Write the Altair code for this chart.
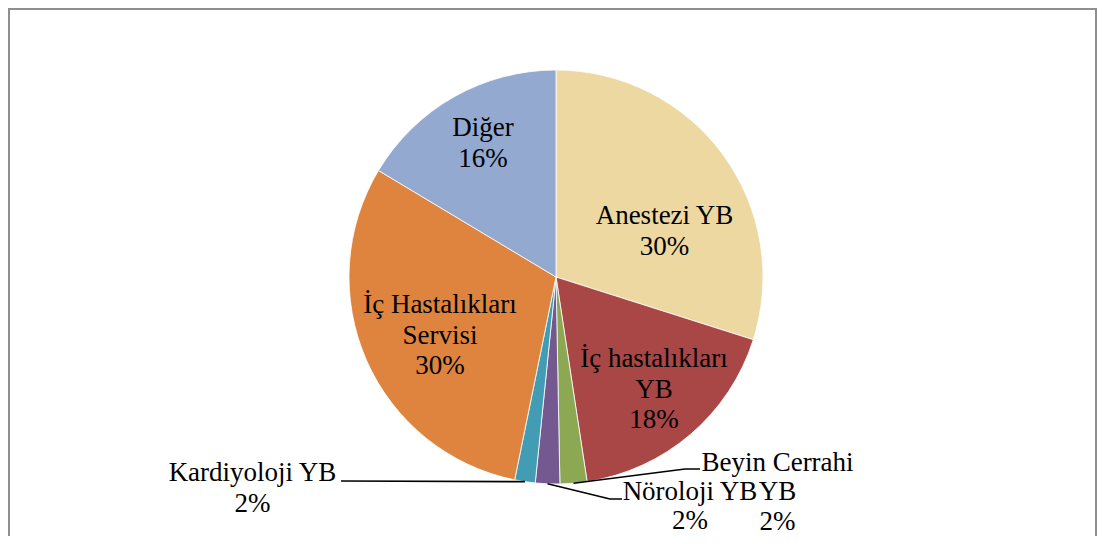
import math
import altair as alt
import pandas as pd

# ---- data ----
categories = ["Anestezi YB", "İç hastalıkları YB", "Beyin Cerrahi YB", "Nöroloji YB",
              "Kardiyoloji YB", "İç Hastalıkları Servisi", "Diğer"]
values = [29.9, 17.7, 2.1, 1.9, 1.6, 30.4, 16.4]
label_lines = [["Anestezi YB"], ["İç hastalıkları", "YB"], ["Beyin Cerrahi", "YB"],
               ["Nöroloji YB"], ["Kardiyoloji YB"], ["İç Hastalıkları", "Servisi"], ["Diğer"]]
colors = ["#EDD8A2", "#A94646", "#8DA853", "#73598F", "#429CB3", "#DE843F", "#93A9D0"]

# ---- layout (view pixel coordinates) ----
W, H = 1089, 528
CX, CY, R = 548, 269, 207
FONT = "Liberation Serif"
FS = 27
LH = 30.5
label_pos = {
    "Anestezi YB": (656.5, 216),
    "İç hastalıkları YB": (646, 359),
    "Beyin Cerrahi YB": (769.5, 463),
    "Nöroloji YB": (682, 492),
    "Kardiyoloji YB": (244.5, 473),
    "İç Hastalıkları Servisi": (432, 305),
    "Diğer": (475, 128),
}
label_lh = {"Beyin Cerrahi YB": 29.3, "Nöroloji YB": 29.3}
leader_pts = {
    "Beyin Cerrahi YB": [(677, 461), (692, 461)],
    "Nöroloji YB": [(602, 491), (614, 491)],
    "Kardiyoloji YB": [(333, 473)],
}

total = sum(values)
pcts = [f"{round(v / total * 100)}%" for v in values]

pie_df = pd.DataFrame({"cat": categories, "value": values, "idx": list(range(len(values)))})

txt_df = pd.DataFrame({
    "cat": categories,
    "text": ["\n".join(l + [p]) for l, p in zip(label_lines, pcts)],
    "x": [label_pos[c][0] for c in categories],
    "y": [label_pos[c][1] for c in categories],
    "tight": [c in label_lh for c in categories],
})

# leader lines start at the slice edge, at its middle angle
rows = []
cum = 0.0
for c, v in zip(categories, values):
    mid = (cum + v / 2) / total * 2 * math.pi
    cum += v
    if c in leader_pts:
        pts = [(CX + R * math.sin(mid), CY - R * math.cos(mid))] + leader_pts[c]
        for k, (px, py) in enumerate(pts):
            rows.append({"seg": c, "o": k, "x": px, "y": py})
lead_df = pd.DataFrame(rows)

xs = alt.Scale(domain=[0, W])
ys = alt.Scale(domain=[H, 0])

pie = alt.Chart(pie_df).mark_arc(outerRadius=R, stroke="#ffffff", strokeWidth=0.8).encode(
    theta=alt.Theta("value:Q", stack=True),
    color=alt.Color("cat:N", scale=alt.Scale(domain=categories, range=colors), legend=None),
    order=alt.Order("idx:Q"),
    x=alt.value(CX),
    y=alt.value(CY),
)

leaders = alt.Chart(lead_df).mark_line(color="#000000", strokeWidth=1.6).encode(
    x=alt.X("x:Q", scale=xs, axis=None),
    y=alt.Y("y:Q", scale=ys, axis=None),
    detail="seg:N",
    order="o:Q",
)


def label_layer(df, lh):
    return alt.Chart(df).mark_text(
        font=FONT, fontSize=FS, color="#000000", align="center", baseline="alphabetic",
        lineBreak="\n", lineHeight=lh,
    ).encode(
        x=alt.X("x:Q", scale=xs, axis=None),
        y=alt.Y("y:Q", scale=ys, axis=None),
        text="text:N",
    )


labels_main = label_layer(txt_df[~txt_df["tight"]], LH)
labels_tight = label_layer(txt_df[txt_df["tight"]], 29.3)

frame_col = "#8f8f8f"
frame_l = alt.Chart(pie_df).mark_rule(color=frame_col, strokeWidth=2).encode(
    x=alt.value(1), y=alt.value(0), y2=alt.value(H))
frame_r = alt.Chart(pie_df).mark_rule(color=frame_col, strokeWidth=2).encode(
    x=alt.value(W - 1), y=alt.value(0), y2=alt.value(H))
frame_t = alt.Chart(pie_df).mark_rule(color=frame_col, strokeWidth=2).encode(
    x=alt.value(0), x2=alt.value(W), y=alt.value(1))

chart = alt.layer(pie, leaders, labels_main, labels_tight, frame_l, frame_r, frame_t).properties(
    width=W, height=H, autosize=alt.AutoSizeParams(type="none"), padding=0,
).configure_view(stroke=None).configure(background="#ffffff")

chart.save("out.html", embed_options={"renderer": "svg", "actions": False})
